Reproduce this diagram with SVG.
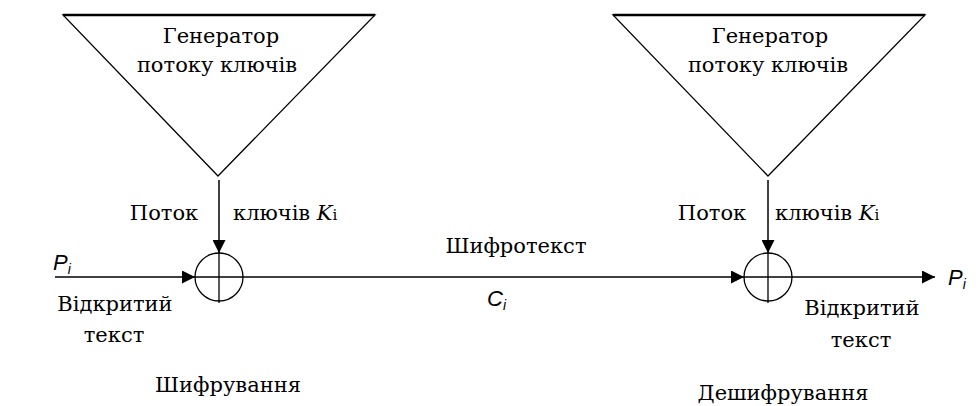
<svg xmlns="http://www.w3.org/2000/svg" width="978" height="406" viewBox="0 0 978 406">
<style>
.shape{fill:none;stroke:#000;stroke-width:1.3}
.top{stroke:#000;stroke-width:2.5}
.ln{fill:none;stroke:#000;stroke-width:1.5}
.t{font-family:"DejaVu Serif","Liberation Serif",serif;font-size:21px;fill:#000}
.m{text-anchor:middle}
.s{font-family:"Liberation Sans",Arial,sans-serif;font-style:italic;font-size:22px;fill:#000}
</style>
<defs>
<marker id="ah" viewBox="0 0 10 10" refX="10" refY="5" markerWidth="14" markerHeight="13" markerUnits="userSpaceOnUse" orient="auto">
<path d="M0,0 L10,5 L0,10 Z" fill="#000"/>
</marker>
</defs>
<rect width="978" height="406" fill="#fff"/>
<g id="gen1">
<polygon class="shape" points="63,15 375,15 218,176"/>
<line class="top" x1="63" y1="15" x2="375" y2="15"/>
<text class="t m" x="221" y="43">Генератор</text>
<text class="t m" x="217" y="72">потоку ключів</text>
</g>
<g id="gen2">
<polygon class="shape" points="613,15 925,15 768,176"/>
<line class="top" x1="613" y1="15" x2="925" y2="15"/>
<text class="t m" x="770" y="43">Генератор</text>
<text class="t m" x="768" y="72">потоку ключів</text>
</g>
<g id="xor1">
<circle class="shape" cx="219" cy="277" r="24"/>
<line class="shape" x1="219" y1="253" x2="219" y2="303"/>
<line class="shape" x1="195" y1="277" x2="243" y2="277"/>
</g>
<g id="xor2">
<circle class="shape" cx="768" cy="277" r="24"/>
<line class="shape" x1="768" y1="253" x2="768" y2="303"/>
<line class="shape" x1="744" y1="277" x2="792" y2="277"/>
</g>
<g id="connectors">
<line class="ln" x1="219" y1="180" x2="219" y2="253" marker-end="url(#ah)"/>
<line class="ln" x1="768" y1="180" x2="768" y2="253" marker-end="url(#ah)"/>
<line class="ln" x1="55" y1="277" x2="195" y2="277" marker-end="url(#ah)"/>
<line class="ln" x1="243" y1="277" x2="744" y2="277" marker-end="url(#ah)"/>
<line class="ln" x1="792" y1="277" x2="935" y2="277" marker-end="url(#ah)"/>
</g>
<g id="labels">
<text class="t m" x="164" y="220">Поток</text>
<text class="t" x="233" y="220">ключів <tspan font-style="italic">K</tspan><tspan font-size="15">і</tspan></text>
<text class="t m" x="712" y="220">Поток</text>
<text class="t" x="775" y="220">ключів <tspan font-style="italic">K</tspan><tspan font-size="15">і</tspan></text>
<text class="t m" x="516" y="253">Шифротекст</text>
<text class="t m" x="115" y="311">Відкритий</text>
<text class="t m" x="114" y="342">текст</text>
<text class="t m" x="862" y="315">Відкритий</text>
<text class="t m" x="861" y="347">текст</text>
<text class="t m" x="228" y="392">Шифрування</text>
<text class="t m" x="783" y="400">Дешифрування</text>
</g>
<g id="vars">
<text class="s" x="487" y="306">C<tspan font-size="14" dy="4">i</tspan></text>
<text class="s" x="53" y="270">P<tspan font-size="14" dy="4">i</tspan></text>
<text class="s" x="948" y="285">P<tspan font-size="14" dy="4">i</tspan></text>
</g>
</svg>
